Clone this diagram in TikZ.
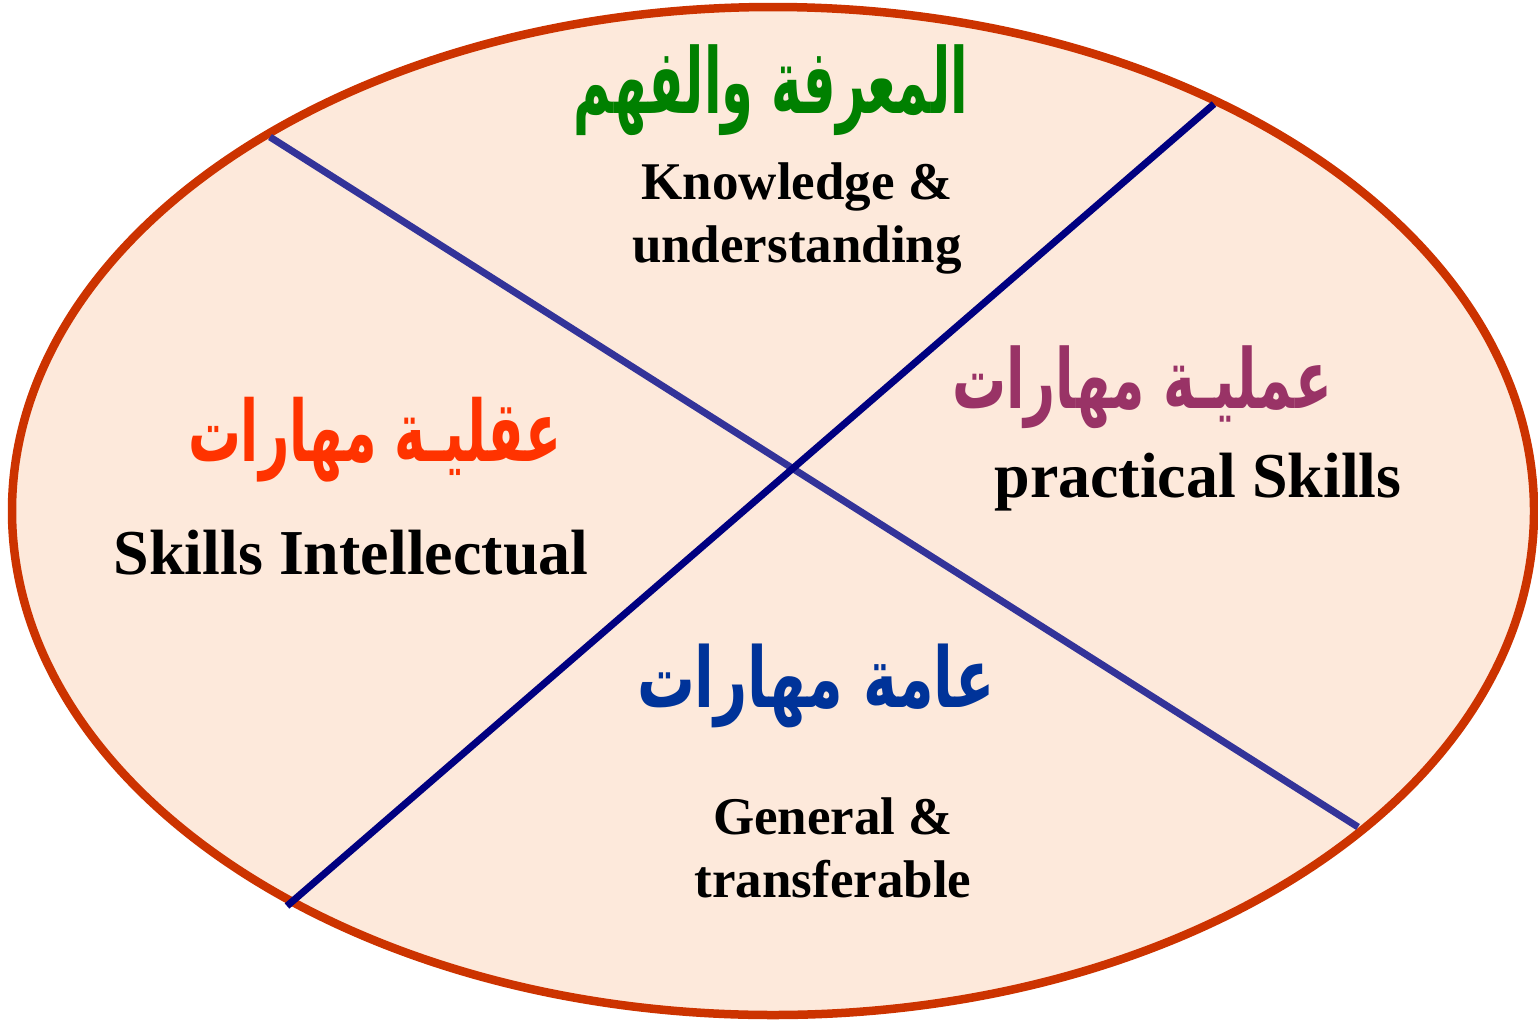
\documentclass[tikz,border=0pt]{standalone}
\usepackage{graphicx}
\usepackage{fontspec}
\setmainfont{Liberation Serif}
\TeXXeTstate=1
\newfontfamily\arabicfont[Script=Arabic]{DejaVu Sans}
\definecolor{ellred}{HTML}{CC3300}
\definecolor{peach}{HTML}{FDE9DB}
\definecolor{lineA}{HTML}{333399}
\definecolor{lineB}{HTML}{000080}
\definecolor{argreen}{HTML}{008000}
\definecolor{armag}{HTML}{993366}
\definecolor{arred}{HTML}{FF3300}
\definecolor{arblue}{HTML}{003399}
\newcommand{\artxt}[3]{\resizebox*{#1pt}{#2pt}{\arabicfont\bfseries\fontsize{58}{64}\selectfont #3}}
\begin{document}
\begin{tikzpicture}[x=1pt,y=-1pt,
  artext/.style={inner sep=0pt},
  entext/.style={font=\bfseries\fontsize{53}{63}\selectfont, align=center, inner sep=0pt},
  enbig/.style={font=\bfseries\fontsize{64}{70}\selectfont, inner sep=0pt},
  divider/.style={line width=7pt}]
\useasboundingbox (0,0) rectangle (1538,1020);
\draw[line width=8.5pt, draw=ellred, fill=peach] (773,511) ellipse [x radius=761pt, y radius=504pt];
\coordinate (a1) at (270,137);
\coordinate (a2) at (1358,827);
\coordinate (b1) at (1214,104);
\coordinate (b2) at (287,906);
\draw[divider, lineA] (a1) -- (a2);
\draw[divider, lineB] (b1) -- (b2);
\node[artext, text=argreen] (t1) at (771,90) {\artxt{394}{91}{\beginR المعرفة والفهم\endR}};
\node[entext] (k1) at (797,218) {Knowledge \&\\understanding};
\node[artext, text=armag] (t2) at (1142,387) {\artxt{380}{83}{\beginR عمليـة مهارات\endR}};
\node[enbig] (p1) at (1198,482) {practical Skills};
\node[artext, text=arred] (t3) at (375,440) {\artxt{374}{85}{\beginR عقليـة مهارات\endR}};
\node[enbig] (s1) at (351,553) {Skills Intellectual};
\node[artext, text=arblue] (t4) at (816,686) {\artxt{358}{84}{\beginR عامة مهارات\endR}};
\node[entext] (g1) at (833,848) {General \&\\transferable};
\end{tikzpicture}
\end{document}
